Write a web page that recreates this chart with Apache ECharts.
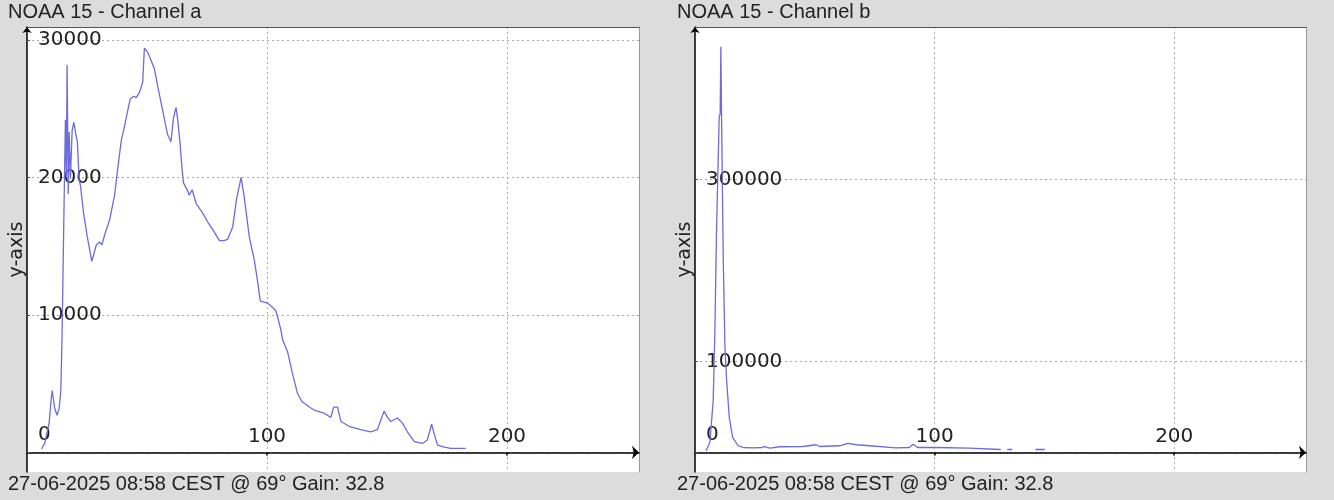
<!DOCTYPE html>
<html><head><meta charset="utf-8">
<script src="https://cdn.jsdelivr.net/npm/echarts@6/dist/echarts.min.js"></script>
<style>html,body{margin:0;padding:0;background:#dcdcdc}#c{width:1334px;height:500px}</style>
</head><body><div id="c"></div>
<script>
const titleA = 'NOAA 15 - Channel a';
const titleB = 'NOAA 15 - Channel b';
const footer = '27-06-2025 08:58 CEST @ 69° Gain: 32.8';
const axisName = 'y-axis';
const xTicks = [100, 200];
const yTicksA = [0, 10000, 20000, 30000];
const yTicksB = [0, 100000, 300000];

const chAx = [6, 7.4, 8.1, 9.2, 10.1, 10.5, 11.5, 12.5, 13.4, 14.1, 14.6, 15.3, 16.0, 16.4, 16.7, 17.2, 17.6, 18.1, 18.8, 19.5, 20.3, 21.0, 21.7, 22.3,
  23.5, 25, 27, 28.9, 30.2, 31.2, 32.5, 34.4, 36.5, 37.9, 39.3, 40.6, 42, 43, 44.5, 45.5, 46.9, 48.2, 48.9, 50.3, 51.7, 53.1, 54.5, 55.9, 57.3, 58.6,
  60, 61, 62.1, 62.8, 63.8, 64.6, 65.2, 67, 67.6, 68.8, 70.5, 73.2, 75.5, 77.4, 80.2, 82, 83.6, 85.7, 87.3, 89.2, 90.5, 92.6, 94.7, 96.1, 97.2,
  100.3, 102, 103.7, 105.8, 106.5, 108.6, 110.6, 112.7, 114.5, 116.2, 117.6, 120, 123.8, 126.6, 127.8, 129.4, 130.8, 134.2, 139.1, 143.2, 146,
  147.4, 148.8, 150.2, 151.6, 154.3, 156.4, 158.5, 161.3, 164.7, 166.8, 168.6, 169.6, 171, 173, 176.5, 182.8];
const chAy = [250, 680, 800, 2130, 3900, 4500, 3250, 2700, 3200, 4500, 8400, 16400, 24200, 20000, 28200, 18800, 23300, 19900, 23400, 24000, 23200, 22600, 19800, 19400,
  17500, 15800, 13900, 15100, 15300, 15100, 15900, 16900, 18700, 20800, 22700, 23700, 24900, 25700, 25900, 25800, 26200, 26900, 29400, 29100, 28500, 27900, 26600, 25400, 24200, 23100,
  22600, 24300, 25100, 24200, 22400, 20600, 19600, 19000, 18700, 19100, 18100, 17400, 16700, 16200, 15400, 15400, 15500, 16400, 18400, 20000, 18600, 15700, 14000, 12400, 11000,
  10850, 10600, 10300, 8900, 8200, 7300, 5750, 4300, 3700, 3500, 3300, 3050, 2850, 2550, 3300, 3300, 2250, 1900, 1650, 1500, 1650,
  2350, 3000, 2550, 2250, 2500, 2150, 1500, 800, 650, 900, 2050, 1400, 550, 420, 300, 300];

const chBx = [4.6, 6.2, 7.6, 8.3, 9.0, 10.1, 10.5, 10.8, 11.1, 11.8, 12.5, 13.2, 14.3, 15.7, 18, 20.1, 24, 28, 29.1, 31.2, 35.4, 45, 50.6, 52, 60.3, 63.8, 67.3, 72.8,
  83.9, 89.4, 91.1, 92.9, 100.5, 114.4, 115.1, 127.6, 129, 130.3, 132.4, 137, 142.1, 146];
const chBy = [1800, 10900, 57000, 134000, 246000, 369000, 372000, 446000, 366000, 211000, 116000, 79000, 38500, 16400, 7300, 5400, 5000, 5400, 6400, 4700, 6200, 6500, 8400, 6500, 7300, 10000, 8400, 7300,
  4900, 5400, 9000, 5400, 5400, 4700, 3200, 3200, null, 3200, 3200, null, 3200, 3200];

const pairs = (xs, ys) => xs.map((x, i) => [x, ys[i] === null ? '-' : ys[i]]);
const labelFont = {fontFamily: 'DejaVu Sans', fontSize: 20, color: '#222'};
const grid = '#aaaaaa';

function xMain(gi) {
  return {type: 'value', gridIndex: gi, min: 0, max: 255,
    axisLine: {show: true, onZero: true, lineStyle: {color: '#000', width: 1.5}, symbol: ['none', 'arrow'], symbolSize: [10, 7]},
    axisTick: {show: true, customValues: xTicks, length: 3, lineStyle: {color: '#000', width: 1.5}},
    axisLabel: Object.assign({show: true, inside: true, customValues: xTicks, margin: 25}, labelFont),
    splitLine: {show: true, lineStyle: {color: grid, type: [2, 3], width: 1}}};
}
function xTop(gi) {
  return {type: 'value', gridIndex: gi, min: 0, max: 255, position: 'top',
    axisLine: {show: true, onZero: false, lineStyle: {color: '#555', width: 1}},
    axisTick: {show: false}, axisLabel: {show: false}, splitLine: {show: false}};
}
function yMain(gi, min, max, ticks) {
  return {type: 'value', gridIndex: gi, min: min, max: max,
    name: axisName, nameLocation: 'middle', nameGap: -1,
    nameTextStyle: {fontFamily: 'DejaVu Sans', fontSize: 19, color: '#222'},
    axisLine: {show: true, onZero: true, lineStyle: {color: '#000', width: 1.5}, symbol: ['none', 'arrow'], symbolSize: [7, 6]},
    axisTick: {show: true, inside: true, customValues: ticks, length: 3, lineStyle: {color: '#555'}},
    axisLabel: Object.assign({show: true, inside: true, customValues: ticks, margin: 11,
      formatter: v => (v === 0 ? '{z|0}' : String(v)),
      rich: {z: {fontFamily: 'DejaVu Sans', fontSize: 20, color: '#222', padding: [0, 0, 35, 0]}}}, labelFont),
    splitLine: {show: true, lineStyle: {color: grid, type: [2, 3], width: 1}}};
}
function yRight(gi, min, max) {
  return {type: 'value', gridIndex: gi, min: min, max: max, position: 'right',
    axisLine: {show: true, onZero: false, lineStyle: {color: '#999', width: 1}},
    axisTick: {show: false}, axisLabel: {show: false}, splitLine: {show: false}};
}
const tStyle = {fontFamily: 'Liberation Sans', fontSize: 20, fontWeight: 'normal', color: '#222'};

const chart = echarts.init(document.getElementById('c'));
chart.setOption({
  backgroundColor: '#dcdcdc',
  animation: false,
  title: [
    {text: titleA, left: 8, top: 2, padding: 0, textStyle: tStyle},
    {text: titleB, left: 677, top: 2, padding: 0, textStyle: tStyle},
    {text: footer, left: 8, top: 474, padding: 0, textStyle: tStyle},
    {text: footer, left: 677, top: 474, padding: 0, textStyle: tStyle}
  ],
  grid: [
    {left: 27, top: 27, width: 612, height: 445, show: true, backgroundColor: '#fff', borderWidth: 0},
    {left: 695, top: 27, width: 611, height: 445, show: true, backgroundColor: '#fff', borderWidth: 0}
  ],
  xAxis: [xMain(0), xTop(0), xMain(1), xTop(1)],
  yAxis: [yMain(0, -1425, 30940, yTicksA), yRight(0, -1425, 30940), yMain(1, -21550, 467650, yTicksB), yRight(1, -21550, 467650)],
  series: [
    {type: 'line', xAxisIndex: 0, yAxisIndex: 0, data: pairs(chAx, chAy), showSymbol: false, symbol: 'none',
      lineStyle: {color: '#6c6cdc', width: 1.3}, itemStyle: {color: '#6c6cdc'}},
    {type: 'line', xAxisIndex: 2, yAxisIndex: 2, data: pairs(chBx, chBy), showSymbol: false, symbol: 'none', connectNulls: false,
      lineStyle: {color: '#6c6cdc', width: 1.3}, itemStyle: {color: '#6c6cdc'}}
  ]
});
</script></body></html>
